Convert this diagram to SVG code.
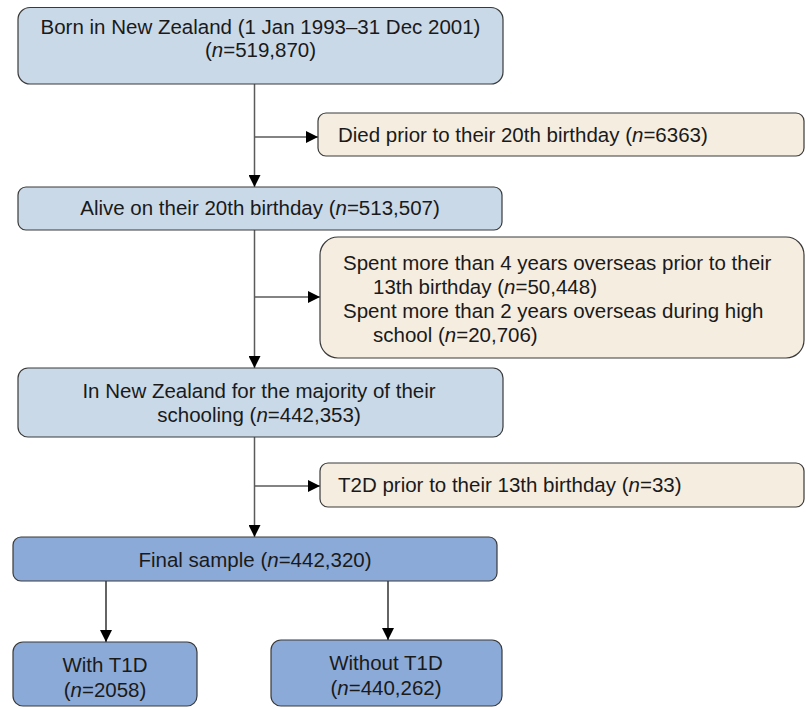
<svg xmlns="http://www.w3.org/2000/svg" width="806" height="709" viewBox="0 0 806 709">
<style>
text{font-family:"Liberation Sans",Arial,sans-serif;font-size:20.5px;fill:#1a1a1a}
.c{text-anchor:middle}
.i{font-style:italic}
.blue{fill:#c9d9e8;stroke:#3a3a3a;stroke-width:1.2}
.tan{fill:#f5ede0;stroke:#3a3a3a;stroke-width:1.2}
.dark{fill:#8caad7;stroke:#3a3a3a;stroke-width:1.2}
.ln{fill:none;stroke:#5a5a5a;stroke-width:1.5}
.lnb{fill:none;stroke:#111;stroke-width:1.3}
</style>
<defs>
<marker id="ah" markerUnits="userSpaceOnUse" markerWidth="12" markerHeight="12" viewBox="0 0 12 12" refX="12" refY="6" orient="auto">
<path d="M0,0 L12,6 L0,12 Z" fill="#000"/>
</marker>
</defs>
<g id="connectors">
<path class="ln" d="M254.5,84 V187" marker-end="url(#ah)"/>
<path class="ln" d="M254.5,137 H318" marker-end="url(#ah)"/>
<path class="ln" d="M254.5,230 V368" marker-end="url(#ah)"/>
<path class="ln" d="M254.5,297 H320" marker-end="url(#ah)"/>
<path class="ln" d="M254.5,437 V537" marker-end="url(#ah)"/>
<path class="ln" d="M254.5,486 H320" marker-end="url(#ah)"/>
<path class="lnb" d="M106,581 V642" marker-end="url(#ah)"/>
<path class="lnb" d="M388,581 V640" marker-end="url(#ah)"/>
</g>
<g id="born">
<rect class="blue" x="18" y="7.5" width="485" height="76.5" rx="12"/>
<text class="c" x="260.5" y="34">Born in New Zealand (1 Jan 1993–31 Dec 2001)</text>
<text class="c" x="260.5" y="57">(<tspan class="i">n</tspan>=519,870)</text>
</g>
<g id="died">
<rect class="tan" x="318" y="113" width="486" height="43" rx="8"/>
<text x="338" y="142">Died prior to their 20th birthday (<tspan class="i">n</tspan>=6363)</text>
</g>
<g id="alive">
<rect class="blue" x="18" y="187" width="484" height="43" rx="8"/>
<text class="c" x="260" y="215">Alive on their 20th birthday (<tspan class="i">n</tspan>=513,507)</text>
</g>
<g id="overseas">
<rect class="tan" x="320" y="237" width="484" height="121" rx="18"/>
<text x="343" y="270">Spent more than 4 years overseas prior to their</text>
<text x="373" y="294">13th birthday (<tspan class="i">n</tspan>=50,448)</text>
<text x="343" y="318">Spent more than 2 years overseas during high</text>
<text x="373" y="342">school (<tspan class="i">n</tspan>=20,706)</text>
</g>
<g id="schooling">
<rect class="blue" x="18" y="368" width="485" height="69" rx="10"/>
<text class="c" x="259" y="398">In New Zealand for the majority of their</text>
<text class="c" x="259" y="422">schooling (<tspan class="i">n</tspan>=442,353)</text>
</g>
<g id="t2d">
<rect class="tan" x="320" y="463" width="484" height="44" rx="8"/>
<text x="338" y="492">T2D prior to their 13th birthday (<tspan class="i">n</tspan>=33)</text>
</g>
<g id="final">
<rect class="dark" x="13" y="537" width="484" height="44" rx="8"/>
<text class="c" x="255" y="567">Final sample (<tspan class="i">n</tspan>=442,320)</text>
</g>
<g id="with">
<rect class="dark" x="13" y="642" width="184" height="64" rx="10"/>
<text class="c" x="105" y="672">With T1D</text>
<text class="c" x="105" y="697">(<tspan class="i">n</tspan>=2058)</text>
</g>
<g id="without">
<rect class="dark" x="271" y="640" width="231" height="66" rx="10"/>
<text class="c" x="386" y="670">Without T1D</text>
<text class="c" x="386" y="695">(<tspan class="i">n</tspan>=440,262)</text>
</g>
</svg>
